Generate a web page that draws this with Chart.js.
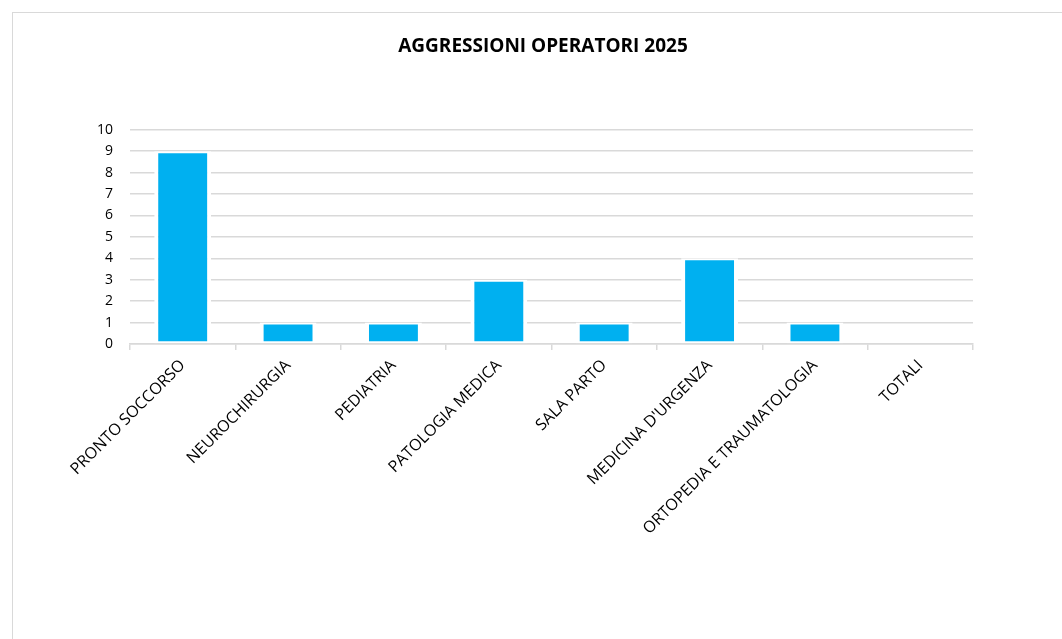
<!DOCTYPE html>
<html>
<head>
<meta charset="utf-8">
<script src="https://cdn.jsdelivr.net/npm/chart.js@4.4.1/dist/chart.umd.min.js"></script>
<style>
  html, body { margin: 0; padding: 0; background: #fff; }
  body { width: 1062px; height: 639px; position: relative; overflow: hidden; }
  #frame { position: absolute; left: 12px; top: 12px; width: 1100px; height: 700px;
           border-left: 1px solid #d9d9d9; border-top: 1px solid #d9d9d9; }
  #wrap { position: absolute; left: 0; top: 0; width: 1062px; height: 639px; }
</style>
</head>
<body>
<div id="frame"></div>
<div id="wrap"><canvas id="c" width="1062" height="639"></canvas></div>
<script>
const categories = ["PRONTO SOCCORSO", "NEUROCHIRURGIA", "PEDIATRIA", "PATOLOGIA MEDICA", "SALA PARTO", "MEDICINA D'URGENZA", "ORTOPEDIA E TRAUMATOLOGIA", "TOTALI"];
const values = [9, 1, 1, 3, 1, 4, 1, 0];
const yTicks = [0, 1, 2, 3, 4, 5, 6, 7, 8, 9, 10];
const chartTitle = "AGGRESSIONI OPERATORI 2025";

const FONT = "'Open Sans', 'Liberation Sans', sans-serif";

new Chart(document.getElementById('c'), {
  type: 'bar',
  data: {
    labels: categories,
    datasets: [{
      data: values,
      backgroundColor: '#00B0F0',
      borderColor: '#ffffff',
      borderWidth: { top: 2, bottom: 2, left: 4, right: 4 },
      borderSkipped: false,
      barPercentage: 0.54,
      categoryPercentage: 1.0
    }]
  },
  options: {
    responsive: false,
    animation: false,
    devicePixelRatio: 1,
    layout: { padding: { left: 24, right: 0, top: 0, bottom: 0 } },
    plugins: {
      legend: { display: false },
      tooltip: { enabled: false },
      title: {
        display: true,
        text: chartTitle,
        color: '#000',
        font: { family: FONT, size: 19, weight: 'bold' },
        padding: { top: 35, bottom: 72 }
      }
    },
    scales: {
      y: {
        position: 'left',
        min: 0, max: 10,
        afterBuildTicks: (s) => { s.ticks = yTicks.map(v => ({ value: v })); },
        afterFit: (s) => { s.width = 106; },
        border: { display: false },
        grid: { color: '#d9d9d9', lineWidth: 1.5, drawTicks: false },
        ticks: { color: '#000', padding: 17, font: { family: FONT, size: 14 } }
      },
      yRight: {
        position: 'right',
        min: 0, max: 10,
        afterFit: (s) => { s.width = 89; },
        border: { display: false },
        grid: { display: false, drawOnChartArea: false, drawTicks: false },
        ticks: { display: false }
      },
      x: {
        afterFit: (s) => { s.height = 295; },
        border: { display: true, color: '#d9d9d9', width: 1.5 },
        grid: { display: true, drawOnChartArea: false, offset: true, color: '#d9d9d9', lineWidth: 1.5, tickLength: 6 },
        ticks: { color: '#000', minRotation: 45, maxRotation: 45, padding: 6, font: { family: FONT, size: 16 } }
      }
    }
  }
});
</script>
</body>
</html>
